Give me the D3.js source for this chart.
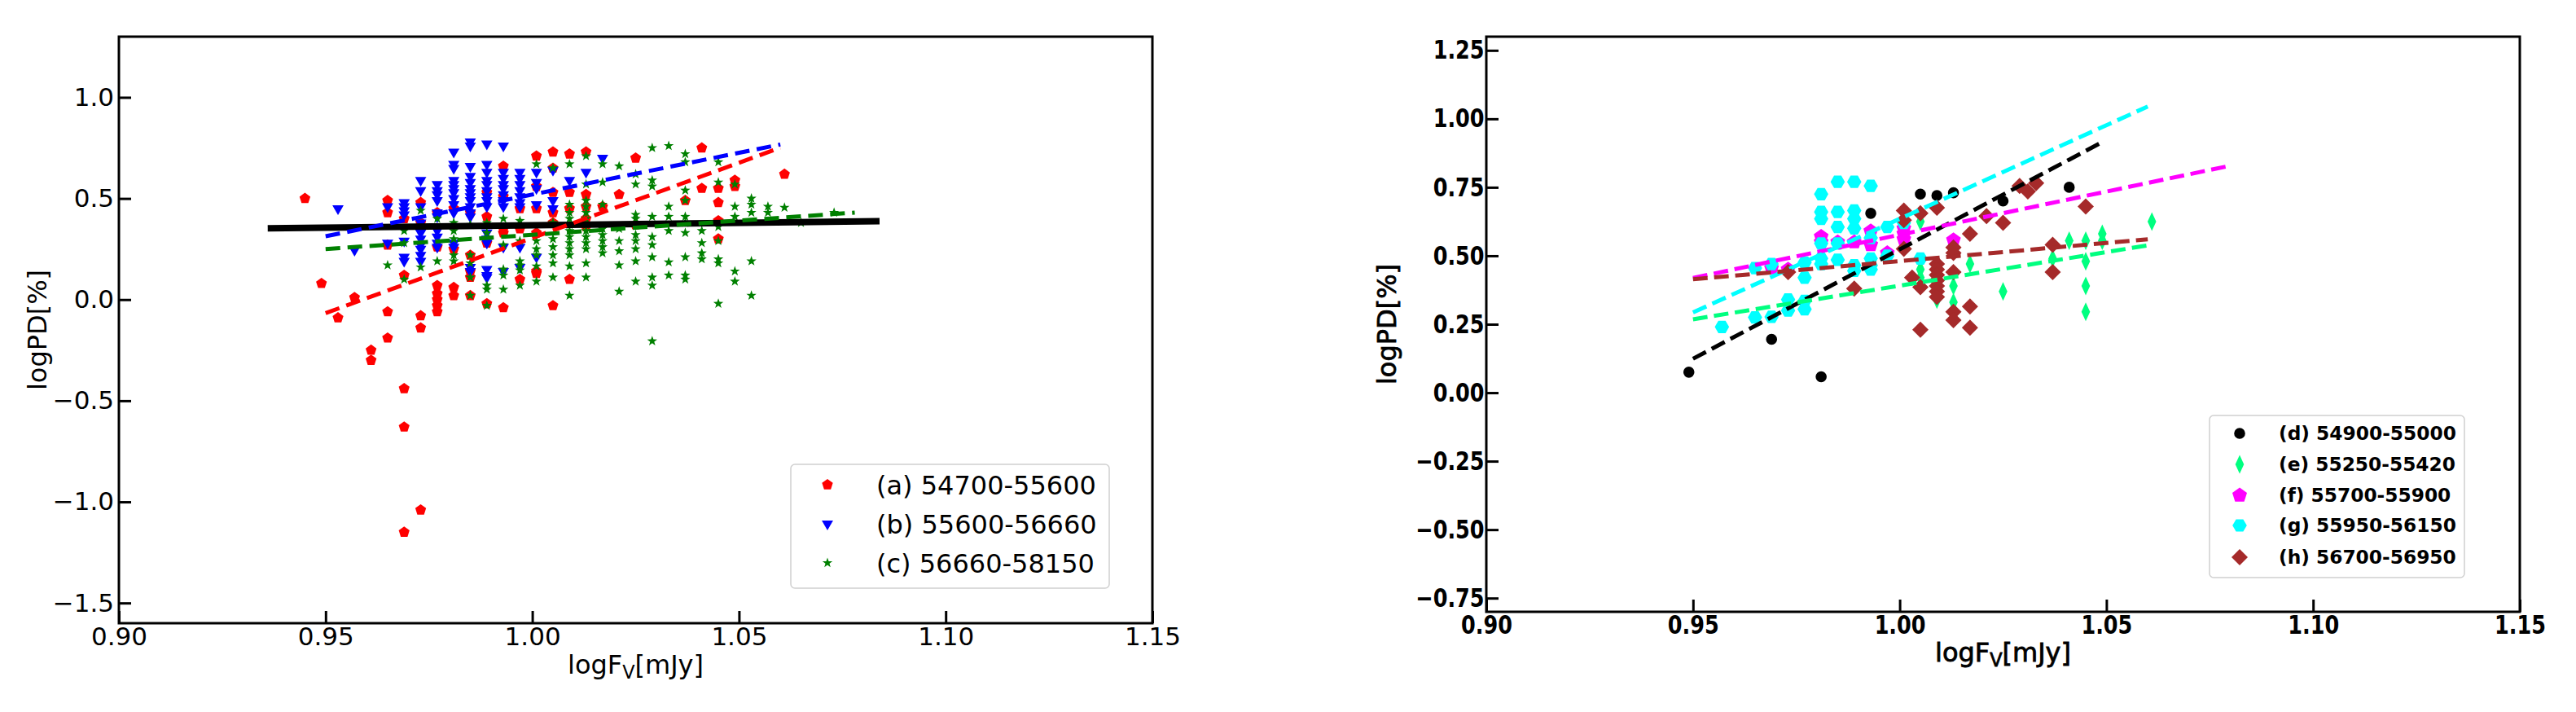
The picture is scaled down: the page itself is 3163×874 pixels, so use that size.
<!DOCTYPE html>
<html>
<head>
<meta charset="utf-8">
<script src="https://cdn.jsdelivr.net/npm/d3@7"></script>
<style>
  body { margin: 0; background: #fff; }
  text { font-family: "DejaVu Sans", sans-serif; fill: #000; }
</style>
</head>
<body>
<svg id="chart" width="3163" height="874"></svg>
<script>
/* ****** Data: left panel (columns of logF -> logPD values) ****** */
var seriesA = [
    [0.945, [0.50]], [0.949, [0.08]], [0.953, [-0.09]], [0.957, [0.01]],
    [0.961, [-0.25, -0.30]],
    [0.965, [0.49, 0.43, 0.27, -0.06, -0.19]],
    [0.969, [0.40, 0.12, -0.44, -0.63, -1.15]],
    [0.973, [0.48, 0.38, -0.08, -0.14, -1.04]],
    [0.977, [0.43, 0.26, 0.07, 0.03, 0.0, -0.03, -0.06]],
    [0.981, [0.45, 0.25, 0.06, 0.02]],
    [0.985, [0.43, 0.22, 0.14, 0.11, 0.02]],
    [0.989, [0.53, 0.41, 0.28, -0.02]],
    [0.993, [0.66, 0.51, 0.35, 0.33, -0.04]],
    [0.997, [0.45, 0.35, 0.10]],
    [1.001, [0.71, 0.56, 0.45, 0.33, 0.14, 0.13]],
    [1.005, [0.73, 0.65, 0.53, 0.43, 0.38, -0.03]],
    [1.009, [0.72, 0.53, 0.45, 0.10]],
    [1.013, [0.73, 0.52, 0.46, 0.40, 0.36]],
    [1.017, [0.46]], [1.021, [0.52]], [1.025, [0.70, 0.37]],
    [1.037, [0.49]], [1.041, [0.75, 0.55]],
    [1.045, [0.55, 0.48, 0.39, 0.30]], [1.049, [0.59, 0.56]], [1.061, [0.62]]
];
var seriesB = [
    [0.953, [0.45]], [0.957, [0.245]], [0.965, [0.46, 0.28]],
    [0.969, [0.48, 0.46, 0.44, 0.42, 0.29, 0.21, 0.19]],
    [0.973, [0.59, 0.54, 0.46, 0.38, 0.35, 0.33, 0.30, 0.27, 0.25, 0.22, 0.19]],
    [0.977, [0.57, 0.54, 0.52, 0.49, 0.43, 0.41, 0.34, 0.31, 0.28, 0.26]],
    [0.981, [0.73, 0.67, 0.65, 0.59, 0.57, 0.55, 0.53, 0.50, 0.47, 0.43, 0.28, 0.26]],
    [0.985, [0.78, 0.76, 0.66, 0.61, 0.58, 0.55, 0.53, 0.51, 0.49, 0.46, 0.43, 0.41, 0.16, 0.14]],
    [0.989, [0.77, 0.67, 0.63, 0.59, 0.57, 0.54, 0.51, 0.49, 0.46, 0.33, 0.30, 0.28, 0.15, 0.12, 0.11]],
    [0.993, [0.76, 0.63, 0.60, 0.57, 0.55, 0.52, 0.49, 0.46, 0.26, 0.14]],
    [0.997, [0.63, 0.60, 0.57, 0.54, 0.51, 0.48, 0.46, 0.26, 0.16]],
    [1.001, [0.63, 0.58, 0.55, 0.47, 0.21]],
    [1.005, [0.64, 0.49, 0.45]], [1.009, [0.59]], [1.013, [0.63]], [1.017, [0.70]]
];
var seriesC = [
    [0.965, [0.17]], [0.969, [0.34, 0.28, 0.10]], [0.973, [0.44, 0.16]],
    [0.977, [0.40, 0.19]],
    [0.981, [0.38, 0.34, 0.30, 0.22, 0.19]],
    [0.985, [0.37, 0.22, 0.18, 0.11, 0.02]],
    [0.989, [0.38, 0.33, 0.07, 0.05, -0.03]],
    [0.993, [0.40, 0.27, 0.15, 0.12, 0.05]],
    [0.997, [0.39, 0.29, 0.19, 0.17, 0.145, 0.07]],
    [1.001, [0.67, 0.29, 0.25, 0.22, 0.165, 0.09]],
    [1.005, [0.65, 0.38, 0.30, 0.26, 0.22, 0.18, 0.11]],
    [1.009, [0.67, 0.47, 0.43, 0.40, 0.37, 0.34, 0.31, 0.28, 0.25, 0.22, 0.165, 0.02]],
    [1.013, [0.71, 0.57, 0.49, 0.46, 0.43, 0.40, 0.37, 0.34, 0.31, 0.28, 0.25, 0.18, 0.11]],
    [1.017, [0.67, 0.58, 0.47, 0.35, 0.32, 0.29, 0.26, 0.23]],
    [1.021, [0.66, 0.35, 0.29, 0.24, 0.17, 0.04]],
    [1.025, [0.62, 0.57, 0.42, 0.40, 0.32, 0.29, 0.25, 0.19, 0.09]],
    [1.029, [0.75, 0.59, 0.56, 0.41, 0.31, 0.27, 0.21, 0.11, 0.07, -0.205]],
    [1.033, [0.76, 0.46, 0.41, 0.34, 0.185, 0.12]],
    [1.037, [0.72, 0.68, 0.54, 0.49, 0.41, 0.38, 0.33, 0.21, 0.12, 0.10]],
    [1.041, [0.34, 0.28, 0.23, 0.20]],
    [1.045, [0.68, 0.58, 0.36, 0.29, 0.20, 0.18, -0.02]],
    [1.049, [0.57, 0.46, 0.41, 0.14, 0.09]],
    [1.053, [0.50, 0.47, 0.43, 0.19, 0.02]],
    [1.057, [0.46, 0.43]], [1.061, [0.455]], [1.065, [0.38]], [1.073, [0.43]]
];
var fitA = [[0.950, -0.067], [1.060, 0.751]];
var fitB = [[0.950, 0.313], [1.060, 0.767]];
var fitC = [[0.950, 0.250], [1.078, 0.430]];
var fitAll = [[0.936, 0.352], [1.084, 0.388]];
var legendLeft = ["(a) 54700-55600", "(b) 55600-56660", "(c) 56660-58150"];

/* ****** Data: right panel ([logF, logPD] points) ****** */
var seriesD = [[0.949, 0.075], [0.969, 0.195], [0.981, 0.058], [0.993, 0.655], [1.005, 0.725],
    [1.009, 0.72], [1.013, 0.73], [1.025, 0.70], [1.041, 0.75]];
var seriesE = [[1.005, 0.625], [1.005, 0.45], [1.005, 0.42], [1.009, 0.34], [1.013, 0.39],
    [1.013, 0.33], [1.013, 0.30], [1.017, 0.47], [1.025, 0.37], [1.037, 0.49], [1.041, 0.555],
    [1.045, 0.555], [1.045, 0.48], [1.045, 0.39], [1.045, 0.295], [1.049, 0.58], [1.049, 0.555],
    [1.061, 0.625]];
var seriesF = [[0.969, 0.455], [0.973, 0.45], [0.981, 0.57], [0.981, 0.55], [0.985, 0.55],
    [0.989, 0.55], [0.993, 0.59], [0.993, 0.54], [0.997, 0.51], [1.001, 0.58], [1.001, 0.60],
    [1.001, 0.56], [1.013, 0.557]];
var seriesG = [[0.957, 0.24], [0.965, 0.275], [0.969, 0.277], [0.965, 0.455], [0.969, 0.47],
    [0.973, 0.34], [0.973, 0.30], [0.977, 0.335], [0.977, 0.305], [0.977, 0.475], [0.977, 0.42],
    [0.981, 0.725], [0.981, 0.66], [0.981, 0.635], [0.981, 0.545], [0.981, 0.49], [0.981, 0.47],
    [0.985, 0.77], [0.985, 0.66], [0.985, 0.605], [0.985, 0.545], [0.985, 0.485],
    [0.989, 0.77], [0.989, 0.665], [0.989, 0.635], [0.989, 0.60], [0.989, 0.465], [0.989, 0.445],
    [0.993, 0.755], [0.993, 0.565], [0.993, 0.49], [0.993, 0.465], [0.993, 0.45],
    [0.997, 0.605], [0.997, 0.50], [1.001, 0.62], [1.005, 0.49]];
var seriesH = [[0.973, 0.44], [0.989, 0.38], [1.001, 0.665], [1.001, 0.63], [1.001, 0.525],
    [1.003, 0.42], [1.005, 0.655], [1.005, 0.385], [1.005, 0.23], [1.009, 0.675], [1.009, 0.47],
    [1.009, 0.45], [1.009, 0.43], [1.009, 0.41], [1.009, 0.39], [1.009, 0.37], [1.009, 0.35],
    [1.013, 0.53], [1.013, 0.51], [1.013, 0.44], [1.013, 0.295], [1.013, 0.265], [1.017, 0.58],
    [1.017, 0.315], [1.017, 0.237], [1.021, 0.645], [1.025, 0.62], [1.029, 0.755], [1.031, 0.735],
    [1.033, 0.765], [1.037, 0.54], [1.037, 0.44], [1.045, 0.68]];
var fitD = [[0.950, 0.124], [1.0495, 0.919]];
var fitE = [[0.950, 0.268], [1.060, 0.538]];
var fitF = [[0.950, 0.419], [1.080, 0.829]];
var fitG = [[0.950, 0.293], [1.060, 1.045]];
var fitH = [[0.950, 0.414], [1.060, 0.560]];
var legendRight = ["(d) 54900-55000", "(e) 55250-55420", "(f) 55700-55900", "(g) 55950-56150", "(h) 56700-56950"];

var xTicks = [0.90, 0.95, 1.00, 1.05, 1.10, 1.15];
var yTicksLeft = [-1.5, -1.0, -0.5, 0.0, 0.5, 1.0];
var yTicksRight = [-0.75, -0.5, -0.25, 0.0, 0.25, 0.5, 0.75, 1.0, 1.25];

/* ****** Marker shapes (size = radius squared) ****** */
function regularPoly(n, rot) {
    return {
        draw: function (ctx, size) {
            var r = Math.sqrt(size);
            for (var i = 0; i < n; i++) {
                var a = rot + 2 * Math.PI * i / n;
                if (i) ctx.lineTo(r * Math.sin(a), -r * Math.cos(a));
                else ctx.moveTo(r * Math.sin(a), -r * Math.cos(a));
            }
            ctx.closePath();
        }
    };
}
var symPentagon = regularPoly(5, 0);
var symTriDown = regularPoly(3, Math.PI);
var symHexagon = regularPoly(6, Math.PI / 2);
var symDiamond = regularPoly(4, 0);
var symStar = {
    draw: function (ctx, size) {
        var r = Math.sqrt(size);
        for (var i = 0; i < 10; i++) {
            var a = Math.PI * i / 5, rr = i % 2 ? r * 0.4 : r;
            if (i) ctx.lineTo(rr * Math.sin(a), -rr * Math.cos(a));
            else ctx.moveTo(0, -rr);
        }
        ctx.closePath();
    }
};
var symThinDiamond = {
    draw: function (ctx, size) {
        var r = Math.sqrt(size);
        ctx.moveTo(0, -r); ctx.lineTo(0.46 * r, 0); ctx.lineTo(0, r); ctx.lineTo(-0.46 * r, 0);
        ctx.closePath();
    }
};
var symDot = {
    draw: function (ctx, size) {
        var r = Math.sqrt(size);
        ctx.moveTo(r, 0); ctx.arc(0, 0, r, 0, 2 * Math.PI);
    }
};

function flatten(cols) {
    var out = [];
    cols.forEach(function (c) { c[1].forEach(function (v) { out.push([c[0], v]); }); });
    return out;
}

var svg = d3.select("#chart");
svg.append("rect").attr("width", 3163).attr("height", 874).attr("fill", "#fff");

/* ****** Generic panel ****** */
function drawPanel(p) {
    var x = d3.scaleLinear().domain([0.90, 1.15]).range([p.left, p.right]);
    var y = d3.scaleLinear().domain(p.yDomain).range([p.bottom, p.top]);
    var g = svg.append("g");

    // scatter
    p.series.forEach(function (s) {
        g.append("g").selectAll("path")
            .data(s.points)
            .enter().append("path")
            .attr("transform", function (d) { return "translate(" + x(d[0]) + "," + y(d[1]) + ")"; })
            .attr("d", d3.symbol().type(s.sym).size(s.r * s.r))
            .attr("fill", s.color);
    });

    // fit lines
    var line = d3.line().x(function (d) { return x(d[0]); }).y(function (d) { return y(d[1]); });
    p.fits.forEach(function (f) {
        g.append("path")
            .attr("d", line(f.pts))
            .attr("fill", "none")
            .attr("stroke", f.color)
            .attr("stroke-width", f.width)
            .attr("stroke-dasharray", f.dash ? f.dash : null);
    });

    // axes (ticks point inward)
    var xAxis = g.append("g").attr("transform", "translate(0," + p.bottom + ")")
        .call(d3.axisBottom(x).tickValues(xTicks).tickFormat(d3.format(".2f")).tickSize(-15).tickPadding(5));
    var yAxis = g.append("g").attr("transform", "translate(" + p.left + ",0)")
        .call(d3.axisLeft(y).tickValues(p.yTicks).tickFormat(d3.format(p.yFormat)).tickSize(-15).tickPadding(p.yPad));
    [xAxis, yAxis].forEach(function (a) {
        a.select(".domain").remove();
        a.selectAll(".tick line").attr("stroke", "#000").attr("stroke-width", 3);
        a.selectAll(".tick text").attr("font-size", p.tickFont).attr("font-weight", p.tickWeight)
            .attr("font-family", "DejaVu Sans").attr("fill", "#000")
            .attr("transform", "scale(" + p.tickSquash + ",1)");
    });

    // frame
    g.append("rect")
        .attr("x", p.left).attr("y", p.top)
        .attr("width", p.right - p.left).attr("height", p.bottom - p.top)
        .attr("fill", "none").attr("stroke", "#000").attr("stroke-width", 3);

    // axis labels
    var xl = g.append("text")
        .attr("x", (p.left + p.right) / 2).attr("y", p.xLabelY)
        .attr("text-anchor", "middle").attr("font-size", p.labelFont)
        .attr("stroke", "#000").attr("stroke-width", p.labelStroke);
    xl.append("tspan").text("logF");
    xl.append("tspan").attr("font-size", p.labelFont * 0.7).attr("dy", p.labelFont * 0.2).text("V");
    xl.append("tspan").attr("dy", -p.labelFont * 0.2).text("[mJy]");

    g.append("text")
        .attr("transform", "translate(" + p.yLabelX + "," + (p.top + p.bottom) / 2 + ") rotate(-90)")
        .attr("text-anchor", "middle").attr("font-size", p.labelFont)
        .attr("stroke", "#000").attr("stroke-width", p.labelStroke)
        .text("logPD[%]");

    // legend
    var L = p.legend;
    var lg = g.append("g");
    lg.append("rect")
        .attr("x", L.x0).attr("y", L.y0).attr("width", L.x1 - L.x0).attr("height", L.y1 - L.y0)
        .attr("rx", 5).attr("fill", "#fff").attr("fill-opacity", 0.8)
        .attr("stroke", "#d0d0d0").attr("stroke-width", 1.5);
    p.series.forEach(function (s, i) {
        var cy = L.rows[i];
        lg.append("path")
            .attr("transform", "translate(" + L.markX + "," + cy + ")")
            .attr("d", d3.symbol().type(s.sym).size(s.r * s.r))
            .attr("fill", s.color);
        lg.append("text")
            .attr("x", L.textX).attr("y", cy).attr("dy", "0.36em")
            .attr("font-size", L.font).attr("font-weight", L.weight)
            .text(L.labels[i]);
    });
}

/* ****** Left panel ****** */
drawPanel({
    left: 146, right: 1415, top: 45, bottom: 765,
    yDomain: [-1.6, 1.3], yTicks: yTicksLeft, yFormat: ".1f", yPad: 6,
    tickFont: 31, tickWeight: "normal", tickSquash: 1,
    labelFont: 32, labelStroke: 0, xLabelY: 827, yLabelX: 57,
    series: [
        { points: flatten(seriesA), sym: symPentagon, r: 7, color: "#ff0000" },
        { points: flatten(seriesB), sym: symTriDown, r: 8, color: "#0000ff" },
        { points: flatten(seriesC), sym: symStar, r: 6.5, color: "#008000" }
    ],
    fits: [
        { pts: fitAll, color: "#000", width: 8 },
        { pts: fitB, color: "#0000ff", width: 5, dash: "18,9" },
        { pts: fitA, color: "#ff0000", width: 5, dash: "18,9" },
        { pts: fitC, color: "#008000", width: 5, dash: "18,9" }
    ],
    legend: { x0: 971, x1: 1362, y0: 570, y1: 722, rows: [595, 643, 691], markX: 1016, textX: 1076,
        font: 32, weight: "normal", labels: legendLeft }
});

/* ****** Right panel ****** */
drawPanel({
    left: 1825, right: 3094, top: 45, bottom: 751,
    yDomain: [-0.8, 1.3], yTicks: yTicksRight, yFormat: ".2f", yPad: 3,
    tickFont: 31.5, tickWeight: "bold", tickSquash: 0.81,
    labelFont: 32, labelStroke: 0.8, xLabelY: 812, yLabelX: 1714,
    series: [
        { points: seriesD, sym: symDot, r: 6.8, color: "#000000" },
        { points: seriesE, sym: symThinDiamond, r: 11.5, color: "#00ff7f" },
        { points: seriesF, sym: symPentagon, r: 9.5, color: "#ff00ff" },
        { points: seriesG, sym: symHexagon, r: 8.8, color: "#00ffff" },
        { points: seriesH, sym: symDiamond, r: 10, color: "#a52a2a" }
    ],
    fits: [
        { pts: fitD, color: "#000000", width: 5, dash: "18,8" },
        { pts: fitE, color: "#00ff7f", width: 5, dash: "18,8" },
        { pts: fitF, color: "#ff00ff", width: 5, dash: "18,8" },
        { pts: fitG, color: "#00ffff", width: 5, dash: "18,8" },
        { pts: fitH, color: "#a52a2a", width: 5, dash: "18,8" }
    ],
    legend: { x0: 2713, x1: 3026, y0: 510, y1: 709, rows: [532, 570, 608, 645, 684], markX: 2750, textX: 2798,
        font: 23.3, weight: "bold", labels: legendRight }
});
</script>
</body>
</html>
